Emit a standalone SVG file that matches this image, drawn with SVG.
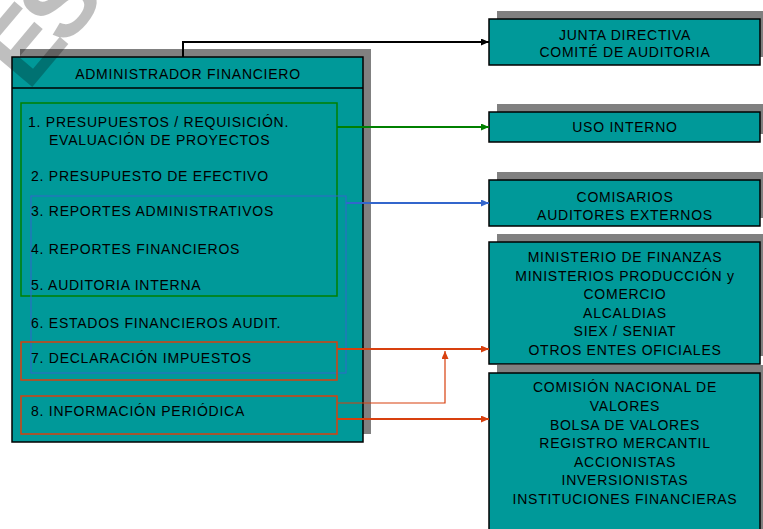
<svg xmlns="http://www.w3.org/2000/svg" width="763" height="529" viewBox="0 0 763 529">
<style>
.shadow{fill:#808080}
.box{fill:#009999;stroke:#000;stroke-width:1.5}
.t{font-family:"Liberation Sans",Arial,sans-serif;font-size:14px;fill:#000;letter-spacing:0.75px}
.c{text-anchor:middle}
.conn{fill:none;stroke-width:2}
</style>
<defs>
<marker id="ak" markerUnits="userSpaceOnUse" markerWidth="9" markerHeight="8" refX="8" refY="3.5" orient="auto"><path d="M0,0 L8,3.5 L0,7 z" fill="#000"/></marker>
<marker id="ag" markerUnits="userSpaceOnUse" markerWidth="9" markerHeight="8" refX="8" refY="3.5" orient="auto"><path d="M0,0 L8,3.5 L0,7 z" fill="#008000"/></marker>
<marker id="ab" markerUnits="userSpaceOnUse" markerWidth="9" markerHeight="8" refX="8" refY="3.5" orient="auto"><path d="M0,0 L8,3.5 L0,7 z" fill="#3366cc"/></marker>
<marker id="ar" markerUnits="userSpaceOnUse" markerWidth="9" markerHeight="8" refX="8" refY="3.5" orient="auto"><path d="M0,0 L8,3.5 L0,7 z" fill="#d8400e"/></marker>
</defs>

<g id="admin">
<rect class="shadow" x="20" y="49" width="351" height="385"/>
<rect class="box" x="12" y="57" width="351" height="385"/>
<line x1="12" y1="88" x2="363" y2="88" stroke="#000" stroke-width="1.5"/>
<text class="t c" x="188" y="79">ADMINISTRADOR FINANCIERO</text>
<rect x="21" y="103" width="316" height="193" fill="none" stroke="#008000" stroke-width="1.5"/>
<rect x="31" y="196" width="315" height="177" fill="none" stroke="#3366cc" stroke-width="1"/>
<rect x="21" y="342" width="316" height="38" fill="none" stroke="#d8400e" stroke-width="1.5"/>
<rect x="21" y="396" width="316" height="38" fill="none" stroke="#d8400e" stroke-width="1.5"/>
<text class="t" x="28" y="127">1. PRESUPUESTOS / REQUISICIÓN.</text>
<text class="t" x="49" y="145">EVALUACIÓN DE PROYECTOS</text>
<text class="t" x="31" y="181">2. PRESUPUESTO DE EFECTIVO</text>
<text class="t" x="31" y="216">3. REPORTES ADMINISTRATIVOS</text>
<text class="t" x="31" y="254">4. REPORTES FINANCIEROS</text>
<text class="t" x="31" y="290">5. AUDITORIA INTERNA</text>
<text class="t" x="31" y="328">6. ESTADOS FINANCIEROS AUDIT.</text>
<text class="t" x="31" y="363">7. DECLARACIÓN IMPUESTOS</text>
<text class="t" x="31" y="416">8. INFORMACIÓN PERIÓDICA</text>
</g>

<g id="junta">
<rect class="shadow" x="497" y="11" width="271" height="46"/>
<rect class="box" x="489" y="19" width="271" height="46"/>
<text class="t c" x="625" y="40">JUNTA DIRECTIVA</text>
<text class="t c" x="625" y="57">COMITÉ DE AUDITORIA</text>
</g>

<g id="uso">
<rect class="shadow" x="497" y="104" width="271" height="30"/>
<rect class="box" x="489" y="112" width="271" height="30"/>
<text class="t c" x="625" y="132">USO INTERNO</text>
</g>

<g id="comisarios">
<rect class="shadow" x="497" y="172" width="271" height="46"/>
<rect class="box" x="489" y="180" width="271" height="46"/>
<text class="t c" x="625" y="202">COMISARIOS</text>
<text class="t c" x="625" y="220">AUDITORES EXTERNOS</text>
</g>

<g id="ministerios">
<rect class="shadow" x="497" y="234" width="271" height="122"/>
<rect class="box" x="489" y="242" width="271" height="122"/>
<text class="t c" x="625" y="262">MINISTERIO DE FINANZAS</text>
<text class="t c" x="625" y="281">MINISTERIOS PRODUCCIÓN y</text>
<text class="t c" x="625" y="299">COMERCIO</text>
<text class="t c" x="625" y="318">ALCALDIAS</text>
<text class="t c" x="625" y="336">SIEX / SENIAT</text>
<text class="t c" x="625" y="355">OTROS ENTES OFICIALES</text>
</g>

<g id="cnv">
<rect class="shadow" x="497" y="365" width="271" height="180"/>
<rect class="box" x="489" y="373" width="271" height="180"/>
<text class="t c" x="625" y="392">COMISIÓN NACIONAL DE</text>
<text class="t c" x="625" y="411">VALORES</text>
<text class="t c" x="625" y="430">BOLSA DE VALORES</text>
<text class="t c" x="625" y="448">REGISTRO MERCANTIL</text>
<text class="t c" x="625" y="467">ACCIONISTAS</text>
<text class="t c" x="625" y="485">INVERSIONISTAS</text>
<text class="t c" x="625" y="504">INSTITUCIONES FINANCIERAS</text>
</g>

<g id="connectors">
<path class="conn" d="M183,57 V42 H489" stroke="#000" marker-end="url(#ak)"/>
<path class="conn" d="M337,127 H489" stroke="#008000" marker-end="url(#ag)"/>
<path class="conn" d="M346,203 H489" stroke="#3366cc" marker-end="url(#ab)"/>
<path class="conn" d="M337,349 H489" stroke="#d8400e" marker-end="url(#ar)"/>
<path d="M337,403 H445 V351" fill="none" stroke="#d8400e" stroke-width="1.2" marker-end="url(#ar)"/>
<path class="conn" d="M337,419 H489" stroke="#d8400e" marker-end="url(#ar)"/>
</g>

<text x="0" y="0" transform="translate(28,92) rotate(-50)" font-family="Liberation Sans,Arial,sans-serif" font-weight="bold" font-size="100" letter-spacing="-10" fill="#000" fill-opacity="0.25">ES</text>
</svg>
